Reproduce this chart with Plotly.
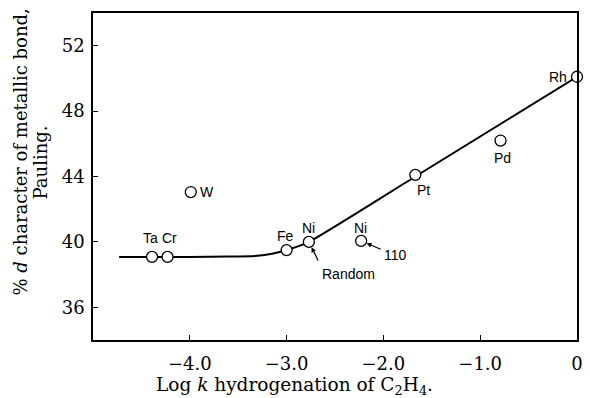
import plotly.graph_objects as go

# ---- data ----
metals = ["Ta", "Cr", "W", "Fe", "Ni", "Ni", "Pt", "Pd", "Rh"]
log_k = [-4.39, -4.23, -3.99, -3.00, -2.77, -2.23, -1.67, -0.79, 0.0]
d_char = [39.08, 39.08, 43.05, 39.5, 40.0, 40.06, 44.1, 46.2, 50.1]

curve_x = [-4.73, -4.4, -4.0, -3.6, -3.3, -3.15, -3.0, -2.77, -1.67, 0.0]
curve_y = [39.08, 39.08, 39.08, 39.1, 39.15, 39.28, 39.5, 40.0, 44.0, 50.1]

x_ticks = [-4, -3, -2, -1, 0]
x_tick_labels = ["\u22124.0", "\u22123.0", "\u22122.0", "\u22121.0", "0"]
y_ticks = [36, 40, 44, 48, 52]
y_tick_labels = ["36", "40", "44", "48", "52"]

# label offsets in pixels (style)
label_shift = [(-2, 19), (2, 19), (16, 0), (-1, 14), (0, 14), (-1, 13), (8, -15), (2, -17), (-19, 0)]

SERIF = "DejaVu Serif"
SANS = "Liberation Sans"

fig = go.Figure()
fig.add_trace(go.Scatter(
    x=curve_x, y=curve_y, mode="lines",
    line=dict(color="black", width=2, shape="spline", smoothing=0.5),
    hoverinfo="skip", showlegend=False,
))
fig.add_trace(go.Scatter(
    x=log_k, y=d_char, mode="markers",
    marker=dict(size=11, color="white", line=dict(color="black", width=1.3)),
    cliponaxis=False, showlegend=False,
))

ann = []
for name, xv, yv, (dx, dy) in zip(metals, log_k, d_char, label_shift):
    ann.append(dict(x=xv, y=yv, xref="x", yref="y", text=name, showarrow=False,
                    xanchor="center", yanchor="middle",
                    xshift=dx, yshift=dy, font=dict(family=SANS, size=14, color="black")))

# "Random" label with arrow to the first Ni point
ni_r = 4
ann.append(dict(x=log_k[ni_r], y=d_char[ni_r], xref="x", yref="y", text="", showarrow=True,
                ax=10, ay=20, arrowhead=2, arrowsize=0.8, arrowwidth=1.2, standoff=6,
                arrowcolor="black"))
ann.append(dict(x=log_k[ni_r], y=d_char[ni_r], xref="x", yref="y", text="Random", showarrow=False,
                xanchor="center", yanchor="middle",
                xshift=40, yshift=-32, font=dict(family=SANS, size=14, color="black")))
# "110" label with arrow to the second Ni point
ni_110 = 5
ann.append(dict(x=log_k[ni_110], y=d_char[ni_110], xref="x", yref="y", text="", showarrow=True,
                ax=21, ay=9, arrowhead=2, arrowsize=0.8, arrowwidth=1.2, standoff=6,
                arrowcolor="black"))
ann.append(dict(x=log_k[ni_110], y=d_char[ni_110], xref="x", yref="y", text="110", showarrow=False,
                xanchor="center", yanchor="middle",
                xshift=34, yshift=-14, font=dict(family=SANS, size=14, color="black")))

# axis titles
ann.append(dict(x=0, y=0.5, xref="paper", yref="paper", text="% <i>d</i> character of metallic bond,",
                textangle=-90, showarrow=False, xanchor="center", yanchor="middle",
                xshift=-73, yshift=24,
                font=dict(family=SERIF, size=18, color="black")))
ann.append(dict(x=0, y=0.5, xref="paper", yref="paper", text="Pauling.",
                textangle=-90, showarrow=False, xanchor="center", yanchor="middle",
                xshift=-53, yshift=14,
                font=dict(family=SERIF, size=18, color="black")))
ann.append(dict(x=0.5, y=0, xref="paper", yref="paper",
                text="Log <i>k</i> hydrogenation of C<sub>2</sub>H<sub>4</sub>.",
                showarrow=False, xanchor="center", yanchor="middle",
                xshift=-41, yshift=-46,
                font=dict(family=SERIF, size=18.5, color="black")))

fig.update_layout(
    width=590, height=398,
    margin=dict(l=93, r=7, t=13, b=58),
    paper_bgcolor="white", plot_bgcolor="white",
    annotations=ann,
    xaxis=dict(range=[-5, 0], tickvals=x_ticks, ticktext=x_tick_labels,
               showgrid=False, zeroline=False, showline=True, mirror=True,
               linecolor="black", linewidth=1.5, ticks="inside", ticklen=5,
               tickcolor="black", tickwidth=1.2, ticklabelstandoff=7,
               tickfont=dict(family=SERIF, size=18, color="black")),
    yaxis=dict(range=[34, 54], tickvals=y_ticks, ticktext=y_tick_labels,
               showgrid=False, zeroline=False, showline=True, mirror=True,
               linecolor="black", linewidth=1.5, ticks="inside", ticklen=5,
               tickcolor="black", tickwidth=1.2, ticklabelstandoff=3,
               tickfont=dict(family=SERIF, size=18, color="black")),
)

fig.write_html("out.html")
